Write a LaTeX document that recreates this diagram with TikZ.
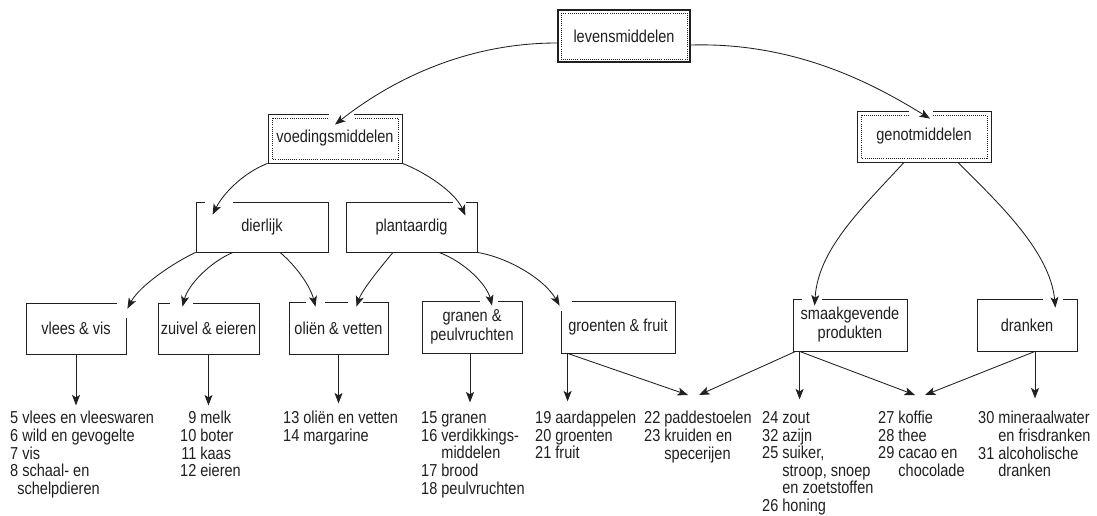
\documentclass[tikz,border=0pt]{standalone}
\usepackage{fontspec}
\setmainfont{Liberation Sans}[FakeStretch=0.84]
\usetikzlibrary{arrows.meta,calc}
\definecolor{ink}{HTML}{202020}
\begin{document}
\begin{tikzpicture}[x=1pt,y=-1pt,
  every node/.style={text=ink, font=\fontsize{17.3}{19}\selectfont},
  box/.style={draw=ink, line width=0.8pt, rectangle, inner sep=0pt, align=center},
  dots/.style={draw=ink, line width=0.6pt, dash pattern=on 0.8pt off 1.3pt},
  arr/.style={draw=ink, line width=0.85pt, -{Stealth[length=10.5pt,width=8pt,inset=2.5pt]}},
  lst/.style={anchor=north west, inner sep=0pt, font=\fontsize{17.3}{17.3}\selectfont},
  gap/.style={fill=white, draw=none}
]
\fill[white] (0,0) rectangle (1097,515);
\useasboundingbox (0,0) rectangle (1097,515);

% boxes
\node[box, line width=2.4pt, minimum width=132pt, minimum height=52pt] (levens) at (624,36) {levensmiddelen};
\node[box, minimum width=134pt, minimum height=49pt] (voed) at (335,138.5) {voedingsmiddelen};
\node[box, minimum width=134pt, minimum height=51pt] (genot) at (924,136.5) {genotmiddelen};
\node[box, minimum width=132pt, minimum height=50pt] (dier) at (262,227) {dierlijk};
\node[box, minimum width=131pt, minimum height=50pt] (plant) at (411.5,227) {plantaardig};
\node[box, minimum width=100pt, minimum height=51pt] (vlees) at (76,328.5) {vlees \& vis};
\node[box, minimum width=101pt, minimum height=51pt] (zuivel) at (208.5,328.5) {zuivel \& eieren};
\node[box, minimum width=99pt, minimum height=52pt] (olien) at (338.5,328) {oliën \& vetten};
\node[box, minimum width=100pt, minimum height=52pt] (granen) at (472,327) {granen \&\\peulvruchten};
\node[box, minimum width=114pt, minimum height=52pt] (groenten) at (618,327) {groenten \& fruit};
\node[box, minimum width=114pt, minimum height=52pt] (smaak) at (850,325) {smaakgevende\\produkten};
\node[box, minimum width=100pt, minimum height=52pt] (dranken) at (1027,325) {dranken};

% inner dotted frames
\draw[dots] ([shift={(4pt,-4pt)}]levens.north west) rectangle ([shift={(-4pt,4pt)}]levens.south east);
\draw[dots] ([shift={(4.5pt,-4.5pt)}]voed.north west) rectangle ([shift={(-4.5pt,4.5pt)}]voed.south east);
\draw[dots] ([shift={(4.5pt,-4.5pt)}]genot.north west) rectangle ([shift={(-4.5pt,4.5pt)}]genot.south east);

% gaps where arrows enter
\path[gap] (329,110) rectangle (354,120);
\path[gap] (909,108) rectangle (933,117);
\path[gap] (205,199) rectangle (233,205);
\path[gap] (453,199) rectangle (466,205);
\path[gap] (117,300) rectangle (130,318);
\path[gap] (170,300) rectangle (193,306);
\path[gap] (306,299) rectangle (325,305);
\path[gap] (348,299) rectangle (363,305);
\path[gap] (480,298) rectangle (498,304);
\path[gap] (558,298) rectangle (572,311);
\path[gap] (802,296) rectangle (822,302);
\path[gap] (1043,296) rectangle (1063,302);

% lists
\node[lst] (l1) at (10,411) {\begin{tabular}{@{}r@{\ }l@{}}5&vlees en vleeswaren\\6&wild en gevogelte\\7&vis\\8&schaal- en\\&\hspace*{-5pt}schelpdieren\end{tabular}};
\node[lst] (l2) at (180,411) {\begin{tabular}{@{}r@{\ }l@{}}9&melk\\10&boter\\11&kaas\\12&eieren\end{tabular}};
\node[lst] (l3) at (283,411) {\begin{tabular}{@{}r@{\ }l@{}}13&oliën en vetten\\14&margarine\end{tabular}};
\node[lst] (l4) at (421,411) {\begin{tabular}{@{}r@{\ }l@{}}15&granen\\16&verdikkings-\\&middelen\\17&brood\\18&peulvruchten\end{tabular}};
\node[lst] (l5) at (535,411) {\begin{tabular}{@{}r@{\ }l@{}}19&aardappelen\\20&groenten\\21&fruit\end{tabular}};
\node[lst] (l6) at (644,411) {\begin{tabular}{@{}r@{\ }l@{}}22&paddestoelen\\23&kruiden en\\&specerijen\end{tabular}};
\node[lst] (l7) at (762,411) {\begin{tabular}{@{}r@{\ }l@{}}24&zout\\32&azijn\\25&suiker,\\&stroop, snoep\\&en zoetstoffen\\26&honing\end{tabular}};
\node[lst] (l8) at (878,411) {\begin{tabular}{@{}r@{\ }l@{}}27&koffie\\28&thee\\29&cacao en\\&chocolade\end{tabular}};
\node[lst] (l9) at (978,411) {\begin{tabular}{@{}r@{\ }l@{}}30&mineraalwater\\&en frisdranken\\31&alcoholische\\&dranken\end{tabular}};

% curved connectors
\draw[arr] ([yshift=-7pt]levens.west) .. controls (460,43) and (385,85) .. ([yshift=-11pt]voed.north);
\draw[arr] ([yshift=-9pt]levens.east) .. controls (800,42) and (880,88) .. ([xshift=6pt,yshift=-8pt]genot.north);
\draw[arr] (voed.south west) .. controls (245,172) and (224,192) .. ([xshift=17pt,yshift=-13pt]dier.north west);
\draw[arr] (voed.south east) .. controls (425,172) and (455,192) .. ([xshift=-12pt,yshift=-14pt]plant.north east);
\draw[arr] (dier.south west) .. controls (175,262) and (140,285) .. ([xshift=1pt,yshift=-6pt]vlees.north east);
\draw[arr] ([xshift=-29pt]dier.south) .. controls (210,262) and (188,285) .. ([xshift=-26pt,yshift=-4pt]zuivel.north);
\draw[arr] ([xshift=18pt]dier.south) .. controls (295,265) and (310,285) .. ([xshift=-23pt,yshift=-5pt]olien.north);
\draw[arr] ([xshift=-18.5pt]plant.south) .. controls (380,268) and (362,290) .. ([xshift=18pt,yshift=-5pt]olien.north);
\draw[arr] ([xshift=27.5pt]plant.south) .. controls (465,262) and (487,285) .. ([xshift=20pt,yshift=-5pt]granen.north);
\draw[arr] (plant.south east) .. controls (510,258) and (545,280) .. ([xshift=-1pt,yshift=-5pt]groenten.north west);
\draw[arr] ([xshift=-20pt]genot.south) .. controls (860,210) and (818,250) .. ([xshift=22pt,yshift=-7pt]smaak.north west);
\draw[arr] ([xshift=34pt]genot.south) .. controls (995,200) and (1050,250) .. ([xshift=-22pt,yshift=-9pt]dranken.north east);

% vertical connectors to lists
\draw[arr] (vlees.south) -- ++(0,51);
\draw[arr] (zuivel.south) -- ++(0,51);
\draw[arr] (olien.south) -- ++(0,49);
\draw[arr] ([xshift=-2pt]granen.south) -- ++(0,49);
\draw[arr] ([xshift=7pt]groenten.south west) -- ++(0,48);
\draw[arr] ([xshift=7pt]smaak.south west) -- ++(0,48);
\draw[arr] ([xshift=8pt]dranken.south) -- ++(0,47);

% diagonal connectors
\draw[arr] ([xshift=7pt]groenten.south west) -- ([xshift=44pt,yshift=16pt]l6.north west);
\draw[arr] ([xshift=3pt]smaak.south west) -- ([xshift=55pt,yshift=16pt]l6.north west);
\draw[arr] ([xshift=7pt]smaak.south west) -- ([xshift=37pt,yshift=16pt]l8.north west);
\draw[arr] ([xshift=8pt]dranken.south) -- ([xshift=47pt,yshift=16pt]l8.north west);
\end{tikzpicture}
\end{document}
